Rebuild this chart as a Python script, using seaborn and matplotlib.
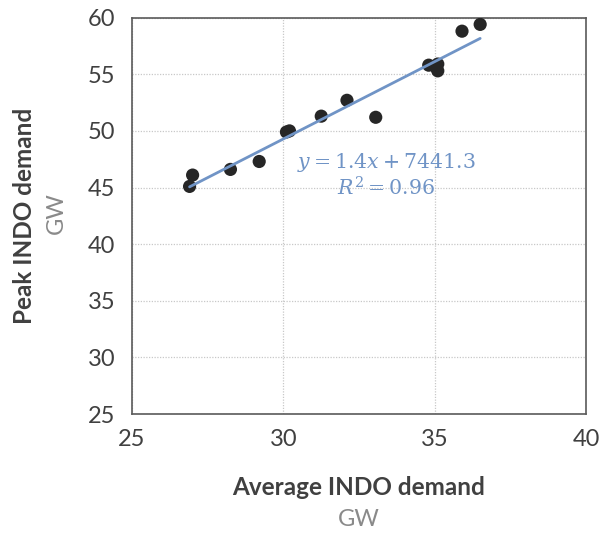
import matplotlib
matplotlib.use("Agg")
import matplotlib.pyplot as plt
import numpy as np
import pandas as pd
import seaborn as sns

# Average vs peak INDO demand (GW)
avg_demand = [26.9, 27.0, 28.25, 29.2, 30.1, 30.2, 31.25, 32.1, 33.05,
              34.8, 35.1, 35.05, 35.1, 35.9, 36.5]
peak_demand = [45.1, 46.1, 46.6, 47.3, 49.9, 50.0, 51.3, 52.7, 51.2,
               55.8, 55.9, 55.6, 55.3, 58.8, 59.4]
equation_text = r"$y = 1.4x + 7441.3$"
r2_text = r"$R^2 = 0.96$"
x_ticks = [25, 30, 35, 40]
y_ticks = [25, 30, 35, 40, 45, 50, 55, 60]

TEXT_DARK = "#404040"
TEXT_GREY = "#8a8a8a"
TREND_BLUE = "#7094c6"

sns.set_theme(style="white")
plt.rcParams["font.family"] = ["Lato", "DejaVu Sans"]
plt.rcParams["mathtext.fontset"] = "dejavuserif"

df = pd.DataFrame({"avg": avg_demand, "peak": peak_demand})

fig = plt.figure(figsize=(6.03, 5.33), dpi=100)
ax = fig.add_axes([0.219, 0.223, 0.753, 0.744])

sns.regplot(data=df, x="avg", y="peak", ax=ax, ci=None,
            scatter_kws={"s": 90, "color": "#262626", "edgecolor": "none", "alpha": 1, "zorder": 3},
            line_kws={"color": TREND_BLUE, "linewidth": 2, "zorder": 4})

ax.set_xlim(x_ticks[0], x_ticks[-1])
ax.set_ylim(y_ticks[0], y_ticks[-1])
ax.set_xticks(x_ticks)
ax.set_yticks(y_ticks)
ax.tick_params(axis="both", labelsize=17, colors=TEXT_DARK, length=0)
ax.tick_params(axis="y", pad=12)
ax.tick_params(axis="x", pad=11)
ax.grid(True, color="#c8c8c8", linestyle=(0, (1, 1.2)), linewidth=0.9)
ax.set_axisbelow(True)
for side in ["left", "right", "top", "bottom"]:
    ax.spines[side].set_color("#5a5a5a")
    ax.spines[side].set_linewidth(1.2)

ax.set_xlabel("")
ax.set_ylabel("")

# axis titles with grey unit line underneath
fig.text(0.595, 0.085, "Average INDO demand", ha="center", va="center",
         fontsize=17.5, fontweight="bold", color=TEXT_DARK)
fig.text(0.595, 0.026, "GW", ha="center", va="center",
         fontsize=17, color=TEXT_GREY)
fig.text(0.040, 0.595, "Peak INDO demand", ha="center", va="center",
         rotation=90, fontsize=17.5, fontweight="bold", color=TEXT_DARK)
fig.text(0.093, 0.600, "GW", ha="center", va="center",
         rotation=90, fontsize=17, color=TEXT_GREY)

# trendline equation
ax.text(33.4, 47.2, equation_text, ha="center", va="center",
        fontsize=14.8, color=TREND_BLUE)
ax.text(33.4, 45.0, r2_text, ha="center", va="center",
        fontsize=14.8, color=TREND_BLUE)

fig.savefig("out.png", dpi=100)
